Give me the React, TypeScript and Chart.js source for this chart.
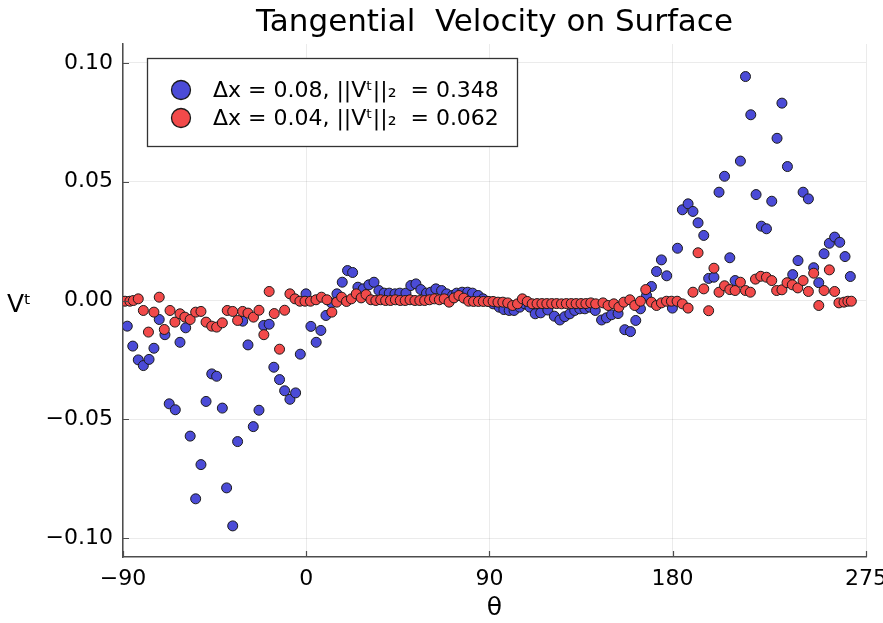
import { useEffect, useRef } from "react";
import { Chart, registerables } from "chart.js";

Chart.register(...registerables);

const titleText = "Tangential  Velocity on Surface";
const xTitle = "θ";
const yTitle = "Vᵗ";
const legendLabels = ["Δx = 0.08, ||Vᵗ||₂  = 0.348", "Δx = 0.04, ||Vᵗ||₂  = 0.062"];
const xTicks = [-90, 0, 90, 180, 275];
const yTicks = [-0.1, -0.05, 0, 0.05, 0.1];

const blueTheta = [
  -87.9, -85.2, -82.5, -80.0, -77.2, -74.8, -72.2, -69.4, -67.3, -64.3, -62.0, -59.2, -57.0, -54.3, -51.7, -49.2,
  -46.4, -44.0, -41.2, -39.1, -36.1, -33.7, -31.2, -28.6, -26.0, -23.2, -20.9, -18.2, -15.9, -13.1, -10.6, -8.0,
  -5.2, -2.9, -0.1, 2.3, 4.9, 7.2, 9.7,
  12.4, 15.1, 17.7, 20.3, 22.8, 25.4, 28.0, 30.8, 33.3, 35.7, 38.3, 40.8, 43.6, 46.0, 49.0, 51.4, 53.9, 56.3, 59.1,
  61.2, 63.7, 66.5, 69.0, 71.9, 73.9, 76.6, 79.3, 81.7, 84.5, 86.9, 89.4, 91.8, 94.8, 97.1, 99.7, 102.1, 104.9, 107.4,
  109.9,
  112.5, 115.2, 118.7, 121.9, 124.6, 127.0, 129.5, 131.9, 134.4, 136.9, 139.3, 142.0, 145.1, 147.5, 150.0, 153.2,
  156.5, 159.3, 161.9, 164.2, 167.2, 169.6, 172.1, 174.5, 177.1, 179.9, 182.4, 184.8, 187.6, 190.0, 192.5, 195.3,
  197.7, 200.3, 202.8, 205.5, 208.1, 210.7, 213.3, 215.8, 218.4, 221.0, 223.6, 226.1, 228.7, 231.3, 233.7, 236.4,
  239.0, 241.6, 244.1, 246.7, 249.3, 251.8, 254.4, 257.0, 259.6, 262.1, 264.7, 267.3,
];
const blueV = [
  -0.0108, -0.0192, -0.025, -0.0274, -0.0248, -0.0201, -0.008, -0.0144, -0.0435, -0.046, -0.0176, -0.0115, -0.0571,
  -0.0835, -0.0691, -0.0425, -0.0309, -0.0319, -0.0453, -0.0789, -0.0949, -0.0594, -0.0087, -0.0187, -0.0531, -0.0462,
  -0.0105, -0.01, -0.0281, -0.0333, -0.038, -0.0416, -0.0389, -0.0226, 0.0028, -0.0109, -0.0176, -0.0126, -0.0063,
  -0.001, 0.0028, 0.0077, 0.0126, 0.0118, 0.0056, 0.0049, 0.0066, 0.0077, 0.0042, 0.0031, 0.0031, 0.0028, 0.0031,
  0.0031, 0.0063, 0.007, 0.0046, 0.0031, 0.0035, 0.0049, 0.0042, 0.0028, 0.0021, 0.0031, 0.0035, 0.0035, 0.0031,
  0.0021, 0.0007, -0.0004, -0.0014, -0.0028, -0.0038, -0.0042, -0.0042, -0.0028, -0.0014, -0.0028,
  -0.0056, -0.0052, -0.004, -0.0066, -0.0082, -0.0068, -0.0056, -0.0042, -0.0035, -0.0035, -0.0028, -0.0042, -0.0082,
  -0.0073, -0.006, -0.0055,
  -0.0123, -0.0131, -0.0084, -0.0035, 0.0021, 0.0059, 0.0122, 0.0171, 0.0104, -0.0032, 0.022, 0.0382, 0.0407, 0.0375,
  0.0327, 0.0274, 0.0093, 0.0098, 0.0456, 0.0523, 0.018, 0.0084, 0.0587, 0.0943, 0.0782, 0.0446, 0.0313, 0.0302,
  0.0418, 0.0683, 0.0831, 0.0564, 0.0109, 0.0168, 0.0456, 0.0428, 0.0138, 0.0075, 0.0197, 0.0241, 0.0267, 0.0245,
  0.0185, 0.0101,
];

const redTheta = [
  -89.0, -86.6, -84.9, -82.5, -80.0, -77.5, -74.8, -72.2, -69.7, -66.9, -64.5, -62.0, -59.6, -57.0, -54.3, -51.7,
  -49.2, -46.4, -44.0, -41.2, -38.8, -36.1, -33.7, -31.2, -28.6, -25.9, -23.2, -20.8, -18.2, -15.7, -13.1, -10.6,
  -8.0, -5.5, -3.1, -0.6, 2.1, 4.8, 7.5, 10.2,
  12.6, 15.0, 17.4, 19.8, 22.2, 24.6, 27.0, 29.4, 31.8, 34.2, 36.6, 39.0, 41.4, 43.8, 46.2, 48.6, 51.0, 53.4, 55.8,
  58.2, 60.6, 63.0, 65.4, 67.8, 70.2, 72.6, 75.0, 77.4, 79.8, 82.2, 84.6, 87.0, 89.4, 91.8, 94.2, 96.6, 99.0, 101.4,
  103.8, 106.2, 108.6, 111.0, 113.4, 115.8, 118.2, 120.6, 123.0, 125.4, 127.8, 130.2, 132.6, 135.0, 137.4, 139.8,
  142.2,
  145.8, 148.3, 151.1, 153.6, 156.0, 159.0, 161.4, 164.2, 166.8, 169.6, 172.1, 174.5, 177.0, 179.4, 182.2, 184.8,
  187.6, 190.0, 192.5, 195.3, 197.7, 200.3, 202.8, 205.5, 208.1, 210.7, 213.3, 215.8, 218.2, 220.7, 223.3, 226.1,
  228.7, 231.1, 233.7, 236.2, 238.8, 241.5, 244.1, 246.7, 249.3, 251.8, 254.4, 257.0, 259.6, 261.7, 264.2, 266.1,
  267.8,
];
const redV = [
  -0.0003, -0.0003, 0.0, 0.0007, -0.0042, -0.0133, -0.0049, 0.0014, -0.0122, -0.0042, -0.0091, -0.0056, -0.007,
  -0.008, -0.0049, -0.0046, -0.0091, -0.0108, -0.0112, -0.0094, -0.0042, -0.0046, -0.0084, -0.0046, -0.0053, -0.007,
  -0.0041, -0.0144, 0.0038, -0.0055, -0.0205, -0.0041, 0.0028, 0.0007, -0.0003, -0.0003, -0.0003, 0.0003, 0.0014,
  0.0003,
  -0.0049, -0.0007, 0.0014, -0.0004, 0.0007, 0.0028, 0.0011, 0.0025, 0.0003, 0.0, 0.0003, 0.0, 0.0, 0.0003, 0.0,
  0.0, 0.0003, 0.0, 0.0, 0.0, 0.0003, 0.0007, 0.0003, 0.0007, -0.0007, 0.0011, 0.0021, 0.001, -0.0003, -0.0004,
  -0.0004, -0.0004, -0.0004, -0.0004, -0.0007, -0.0007, -0.001, -0.0021, -0.0014, 0.0007, -0.0004, -0.0014, -0.0013,
  -0.0013, -0.0013, -0.0013, -0.0013, -0.0014, -0.0013, -0.0013, -0.0013, -0.0013, -0.0013, -0.001, -0.0014,
  -0.001, -0.0021, -0.0014, -0.0028, -0.0007, 0.0003, -0.0021, -0.0003, 0.0046, -0.0007, -0.0021, -0.001, -0.0003,
  -0.0003, -0.0003, -0.0014, -0.0032, 0.0035, 0.0201, 0.0049, -0.0043, 0.0136, 0.0035, 0.0062, 0.0046, 0.0042,
  0.0077, 0.0042, 0.0035, 0.009, 0.0102, 0.0098, 0.0084, 0.0042, 0.0045, 0.0075, 0.0066, 0.0053, 0.0084, 0.0038,
  0.0115, -0.0021, 0.0042, 0.0129, 0.0038, -0.001, -0.0007, -0.0003, -0.0003,
];

const blueFill = "#4b4bd7";
const redFill = "#f24a4a";
const edge = "#1a1a1a";
const FONT = '"DejaVu Sans", sans-serif';

const fmtX = (v: number) => (v < 0 ? "−" + Math.abs(v) : String(v));
const fmtY = (v: number) => (v < 0 ? "−" + Math.abs(v).toFixed(2) : Math.abs(v).toFixed(2));

const overlay = {
  id: "overlay",
  afterDraw(chart: any) {
    const { ctx, chartArea: ca, scales } = chart;
    ctx.save();
    // inward tick marks
    ctx.strokeStyle = "#4d4d4d";
    ctx.lineWidth = 1.2;
    ctx.beginPath();
    xTicks.forEach((v) => {
      const x = Math.round(scales.x.getPixelForValue(v)) + 0.5;
      ctx.moveTo(x, ca.bottom);
      ctx.lineTo(x, ca.bottom - 6);
    });
    yTicks.forEach((v) => {
      const y = Math.round(scales.y.getPixelForValue(v)) + 0.5;
      ctx.moveTo(ca.left, y);
      ctx.lineTo(ca.left + 6, y);
    });
    ctx.stroke();

    // title
    ctx.fillStyle = "#000";
    ctx.textAlign = "center";
    ctx.textBaseline = "alphabetic";
    ctx.font = `31px ${FONT}`;
    ctx.fillText(titleText, (ca.left + ca.right) / 2, 31);

    // axis titles
    ctx.font = `25px ${FONT}`;
    ctx.fillText(xTitle, (ca.left + ca.right) / 2, 615);
    ctx.textAlign = "left";
    ctx.fillText(yTitle, 7, 312);

    // legend
    const bx = 147.5, by = 58.5, bw = 370, bh = 88;
    ctx.fillStyle = "#fff";
    ctx.fillRect(bx, by, bw, bh);
    ctx.strokeStyle = "#333";
    ctx.lineWidth = 1.3;
    ctx.strokeRect(bx, by, bw, bh);
    const fills = [blueFill, redFill];
    ctx.font = `22px ${FONT}`;
    ctx.textBaseline = "middle";
    legendLabels.forEach((lab, i) => {
      const cy = 90 + i * 28;
      ctx.beginPath();
      ctx.arc(181, cy, 9.5, 0, Math.PI * 2);
      ctx.fillStyle = fills[i];
      ctx.fill();
      ctx.strokeStyle = edge;
      ctx.lineWidth = 1.3;
      ctx.stroke();
      ctx.fillStyle = "#000";
      ctx.fillText(lab, 213, cy + 1);
    });
    ctx.restore();
  },
};

export default function App() {
  const ref = useRef<HTMLCanvasElement | null>(null);
  useEffect(() => {
    document.body.style.margin = "0";
    const blue = blueTheta.map((t, i) => ({ x: t, y: blueV[i] }));
    const red = redTheta.map((t, i) => ({ x: t, y: redV[i] }));
    const chart = new Chart(ref.current as HTMLCanvasElement, {
      type: "scatter",
      data: {
        datasets: [
          {
            label: legendLabels[0],
            data: blue,
            backgroundColor: blueFill,
            borderColor: edge,
            borderWidth: 1,
            pointRadius: 5,
            order: 1,
          },
          {
            label: legendLabels[1],
            data: red,
            backgroundColor: redFill,
            borderColor: edge,
            borderWidth: 1,
            pointRadius: 5,
            order: 0,
          },
        ],
      },
      options: {
        animation: false,
        responsive: false,
        maintainAspectRatio: false,
        layout: { padding: { top: 44, right: 17, left: 0, bottom: 0 } },
        plugins: { legend: { display: false }, title: { display: false }, tooltip: { enabled: false } },
        scales: {
          x: {
            type: "linear",
            min: -90,
            max: 275,
            afterBuildTicks: (s: any) => {
              s.ticks = xTicks.map((v) => ({ value: v }));
            },
            afterFit: (s: any) => {
              s.height = 66;
              s.paddingLeft = 0;
              s.paddingRight = 0;
            },
            ticks: {
              autoSkip: false,
              maxRotation: 0,
              padding: 9,
              color: "#000",
              font: { family: FONT, size: 22 },
              callback: (v: any) => fmtX(Number(v)),
            },
            grid: { color: "rgba(0,0,0,0.08)", lineWidth: 1, drawTicks: false },
            border: { display: true, color: "#4d4d4d", width: 1.5 },
          },
          y: {
            type: "linear",
            min: -0.108,
            max: 0.108,
            afterBuildTicks: (s: any) => {
              s.ticks = yTicks.map((v) => ({ value: v }));
            },
            afterFit: (s: any) => {
              s.width = 123;
              s.paddingTop = 0;
              s.paddingBottom = 0;
            },
            ticks: {
              autoSkip: false,
              padding: 10,
              color: "#000",
              font: { family: FONT, size: 22 },
              callback: (v: any) => fmtY(Number(v)),
            },
            grid: { color: "rgba(0,0,0,0.08)", lineWidth: 1, drawTicks: false },
            border: { display: true, color: "#4d4d4d", width: 1.5 },
          },
        },
      },
      plugins: [overlay],
    } as any);
    return () => chart.destroy();
  }, []);
  return (
    <div style={{ width: 883, height: 623, background: "#fff" }}>
      <canvas ref={ref} width={883} height={623} style={{ display: "block" }} />
    </div>
  );
}
